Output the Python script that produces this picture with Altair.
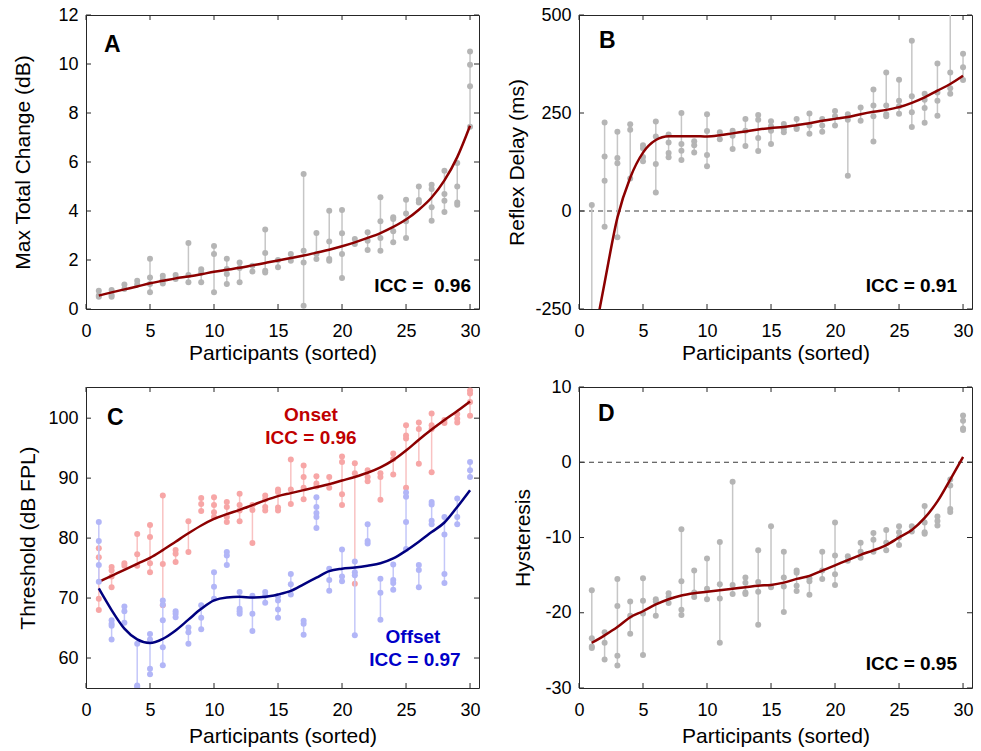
import altair as alt
import pandas as pd

FONT = "Liberation Sans"

participants = list(range(1, 31))
x_ticks = [0, 5, 10, 15, 20, 25, 30]

# Panel A: max total change (dB), repeated sessions per participant
A_points = [
    [0.75, 0.55, 0.5], [0.78, 0.57, 0.5], [1.0, 0.82], [1.15, 1.0],
    [2.05, 1.29, 1.02, 0.68], [1.36, 1.2, 1.04], [1.39, 1.22], [2.69, 1.39, 1.09],
    [1.62, 1.48, 1.09], [2.57, 2.24, 0.68], [2.05, 1.63, 1.43, 1.02], [1.9, 1.67, 1.09],
    [1.77, 1.53], [3.24, 2.29, 1.56, 1.49], [2.0, 1.7], [2.24, 1.97],
    [5.51, 2.38, 1.9, 0.13], [3.1, 2.24, 2.04], [4.01, 2.76, 2.04, 1.97], [4.04, 3.09, 2.24, 1.27],
    [2.86, 2.65], [3.13, 2.79, 2.41], [4.56, 3.58, 2.9, 2.38], [3.74, 3.67, 3.17, 2.72],
    [4.46, 3.9, 3.58, 2.9], [5.0, 4.45, 4.35], [5.07, 4.9, 4.15, 3.6], [5.64, 4.69, 4.42, 3.96],
    [5.96, 5.0, 4.35, 4.26], [10.51, 9.97, 9.09, 7.44],
]
A_fit = [0.55, 0.68, 0.8, 0.92, 1.05, 1.15, 1.25, 1.33, 1.42, 1.52,
         1.6, 1.68, 1.78, 1.88, 1.98, 2.08, 2.18, 2.3, 2.42, 2.56,
         2.72, 2.9, 3.1, 3.35, 3.65, 4.05, 4.55, 5.25, 6.2, 7.48]
A_ticks = [0, 2, 4, 6, 8, 10, 12]

# Panel B: reflex delay (ms)
B_points = [
    [15, -420, -610], [226, 139, 77, -40], [202, 135, 122, -67], [221, 207, 83],
    [168, 160, 138, 127], [228, 190, 120, 47], [195, 175, 148, 137], [250, 171, 154, 130],
    [178, 168, 149], [247, 204, 143, 114], [201, 183], [205, 192, 158],
    [235, 205, 166], [245, 233, 186, 153], [229, 216, 205, 171], [222, 209, 201],
    [235, 213, 209], [249, 218, 197], [235, 218, 202], [255, 242, 218],
    [247, 233, 90], [264, 230], [310, 269, 242, 177], [353, 269, 247, 242],
    [335, 281, 267, 248], [434, 293, 252, 214], [299, 284, 263, 225], [376, 302, 281, 243],
    [560, 353, 313, 299], [401, 367, 334],
]
B_fit = [-355, -183, -17, 85, 149, 181, 191, 191, 191, 190,
         193, 198, 203, 208, 212, 214, 219, 224, 230, 235,
         240, 247, 253, 258, 265, 276, 290, 307, 324, 345]
B_ticks = [-250, 0, 250, 500]

# Panel C: onset and offset thresholds (dB FPL)
C_onset = [
    [78.3, 76.8, 69.9, 68.0], [75.2, 74.6, 73.6, 71.8], [75.8, 75.4], [80.7, 77.3, 75.4],
    [82.2, 80.2, 75.8, 74.3], [87.1, 75.7, 68.8], [78.0, 77.4, 76.0], [82.8, 77.7],
    [86.7, 85.7, 84.5], [86.8, 85.5, 84.3, 83.5], [86.0, 85.2, 83.5, 82.7], [87.4, 85.5, 84.6, 82.8],
    [85.5, 84.7, 79.2], [87.1, 86.5, 85.2, 84.6], [88.1, 87.7, 85.1, 84.6], [93.1, 88.1, 85.7],
    [92.1, 90.2, 88.4, 86.5], [90.3, 89.1, 88.6], [90.2, 88.4], [93.6, 92.7, 87.3, 85.5],
    [92.5, 90.8, 72.4], [91.3, 90.2, 89.5], [90.8, 90.2, 86.4], [94.1, 93.2, 90.6],
    [98.8, 97.1, 96.6, 88.4], [99.3, 98.2, 92.4], [100.8, 98.8, 98.2, 91.0], [99.7, 99.2],
    [100.7, 99.9, 99.3], [104.6, 104.1, 102.7, 100.4],
]
C_onset_fit = [72.7, 73.7, 74.7, 75.7, 76.7, 78.0, 79.4, 80.8, 82.1, 83.2,
               84.0, 84.7, 85.5, 86.3, 87.0, 87.5, 88.0, 88.5, 89.0, 89.6,
               90.2, 90.9, 91.8, 93.0, 94.6, 96.4, 98.1, 99.7, 101.2, 102.8]
C_offset = [
    [82.7, 79.5, 75.5, 72.7], [66.3, 65.7, 65.4, 63.1], [68.6, 67.8, 65.9], [62.4, 55.4, 55.2],
    [64.0, 63.1, 58.2, 57.3], [69.6, 68.9, 66.3, 61.8, 58.8], [67.8, 67.4, 66.8], [65.1, 64.3, 62.4],
    [68.8, 66.7, 64.8], [74.3, 71.9, 69.9], [77.7, 77.1, 75.5], [71.0, 68.2, 67.8, 67.4],
    [70.4, 67.4, 64.5], [71.0, 70.4, 69.2], [70.3, 69.6, 68.1, 66.7], [74.0, 72.3, 70.6],
    [66.2, 65.7, 63.9], [86.8, 85.2, 84.2, 83.5, 81.7], [74.9, 73.0, 71.2], [78.1, 73.6, 72.8],
    [76.1, 74.3, 73.8, 63.8], [82.3, 79.5, 79.1], [73.2, 70.9, 66.4], [75.6, 73.0, 72.5, 71.4],
    [87.6, 86.9, 82.7, 78.2], [75.5, 74.7, 71.8], [86.0, 85.6, 82.9, 82.3], [83.5, 80.6, 74.0, 72.5],
    [86.6, 83.5, 82.3], [92.7, 91.3, 90.2],
]
C_offset_fit = [71.6, 68.0, 64.9, 63.1, 62.5, 63.2, 64.6, 66.4, 68.2, 69.6,
                70.1, 70.2, 70.1, 70.2, 70.6, 71.2, 72.3, 73.4, 74.5, 74.9,
                75.1, 75.4, 75.8, 76.6, 77.9, 79.4, 81.0, 82.6, 85.2, 88.0]
C_ticks = [60, 70, 80, 90, 100]

# Panel D: hysteresis
D_points = [
    [-17.0, -23.4, -24.5, -24.7], [-22.6, -24.0, -26.2], [-15.5, -19.1, -25.7, -27.0], [-18.5, -20.4, -22.8],
    [-15.4, -18.4, -20.1, -25.6], [-18.2, -18.5, -20.4], [-17.4, -17.9, -18.7], [-8.9, -15.8, -19.6, -20.3],
    [-14.4, -17.3, -17.9], [-12.8, -16.8, -18.2], [-10.6, -16.2, -18.1, -24.0], [-2.6, -16.3, -17.5],
    [-15.3, -16.0, -17.3, -17.5], [-11.7, -15.9, -17.2, -21.6], [-8.5, -16.6], [-11.9, -15.3, -16.5, -19.9],
    [-14.4, -14.7, -16.4, -17.1], [-15.4, -15.8, -17.6], [-11.9, -14.4, -15.5], [-8.0, -12.4, -14.9, -16.3],
    [-12.5, -13.1], [-10.7, -11.9, -12.7], [-9.4, -10.3, -11.9], [-9.0, -10.7, -11.7],
    [-8.5, -9.3, -10.0, -11.0], [-8.5, -9.2], [-5.8, -8.0, -9.3, -9.5], [-7.2, -7.8, -8.4],
    [-2.3, -3.1, -6.2, -6.6], [6.2, 5.5, 4.5, 4.3],
]
D_fit = [-24.0, -23.0, -21.9, -20.6, -19.8, -18.9, -18.2, -17.7, -17.4, -17.2,
         -17.0, -16.8, -16.6, -16.4, -16.3, -16.0, -15.5, -15.1, -14.4, -13.7,
         -13.0, -12.3, -11.7, -11.0, -10.0, -9.0, -7.4, -5.2, -2.3, 0.7]
D_ticks = [-30, -20, -10, 0, 10]

W = 393
H_TOP = 294
H_BOT = 301
TICK = 5
AX = "#262626"

GRAY_PT, GRAY_RULE = "#b5b5b5", "#c6c6c6"
RED_FIT, NAVY_FIT = "#8c0000", "#00007f"
PINK_PT, PINK_RULE = "#f7a6a6", "#f9c2c2"
BLUE_PT, BLUE_RULE = "#b2b6f7", "#c4c7f9"

x_scale = alt.Scale(domain=[0, 30.7], nice=False, zero=False)


def axes(yticks, ytitle, title_pad, x_title_pad):
    """One x and one y axis definition, shared verbatim by every layer of a panel."""
    x_axis = alt.Axis(values=x_ticks, title="Participants (sorted)", labelFlush=False,
                      labelOverlap=False, labelPadding=13, titlePadding=x_title_pad)
    y_axis = alt.Axis(values=yticks, title=ytitle, labelFlush=False, labelOverlap=False,
                      labelPadding=8, titlePadding=title_pad,
                      labelExpr="toString(datum.value)")
    return x_axis, y_axis


def long_table(points):
    rows = [{"participant": p, "value": v}
            for p, vals in zip(participants, points) for v in vals]
    return pd.DataFrame(rows)


def series(points, fit, ys, ax, pt_color, rule_color, fit_color):
    x_axis, y_axis = ax
    df = long_table(points)
    x = alt.X("participant:Q", scale=x_scale, axis=x_axis)
    spread = alt.Chart(df).mark_rule(color=rule_color, strokeWidth=1.5, clip=True).encode(
        x=x,
        y=alt.Y("min(value):Q", scale=ys, axis=y_axis),
        y2=alt.Y2("max(value):Q"),
    )
    dots = alt.Chart(df).mark_circle(color=pt_color, size=36, opacity=1, clip=True).encode(
        x=x,
        y=alt.Y("value:Q", scale=ys, axis=y_axis),
    )
    curve = alt.Chart(pd.DataFrame({"participant": participants, "fit": fit})).mark_line(
        color=fit_color, strokeWidth=2.5, clip=True, interpolate="monotone"
    ).encode(
        x=x,
        y=alt.Y("fit:Q", scale=ys, axis=y_axis),
    )
    return [spread, dots, curve]


def frame(ys, ax, yticks, height):
    """Inward-pointing ticks on all four sides of the box."""
    x_axis, y_axis = ax
    xt = pd.DataFrame({"t": x_ticks})
    yt = pd.DataFrame({"t": yticks})
    tick = dict(color=AX, strokeWidth=1)
    bottom = alt.Chart(xt).mark_rule(**tick).encode(
        x=alt.X("t:Q", scale=x_scale, axis=x_axis),
        y=alt.value(height), y2=alt.value(height - TICK))
    top = alt.Chart(xt).mark_rule(**tick).encode(
        x=alt.X("t:Q", scale=x_scale, axis=x_axis),
        y=alt.value(0), y2=alt.value(TICK))
    left = alt.Chart(yt).mark_rule(**tick).encode(
        y=alt.Y("t:Q", scale=ys, axis=y_axis),
        x=alt.value(0), x2=alt.value(TICK))
    right = alt.Chart(yt).mark_rule(**tick).encode(
        y=alt.Y("t:Q", scale=ys, axis=y_axis),
        x=alt.value(W), x2=alt.value(W - TICK))
    return [bottom, left, top, right]


def zero_line(ys, ax):
    return alt.Chart(pd.DataFrame({"z": [0]})).mark_rule(
        color="#3a3a3a", strokeWidth=1, strokeDash=[5, 4]
    ).encode(y=alt.Y("z:Q", scale=ys, axis=ax[1]))


def label(text, x, y, size=19, color="black", align="left"):
    return alt.Chart(pd.DataFrame({"s": [text]})).mark_text(
        font=FONT, fontSize=size, fontWeight="bold", color=color,
        align=align, baseline="alphabetic"
    ).encode(x=alt.value(x), y=alt.value(y), text="s:N")


# A
ys_a = alt.Scale(domain=[0, 12], nice=False, zero=False)
ax_a = axes(A_ticks, "Max Total Change (dB)", 24, 2)
panel_a = alt.layer(
    *frame(ys_a, ax_a, A_ticks, H_TOP),
    *series(A_points, A_fit, ys_a, ax_a, GRAY_PT, GRAY_RULE, RED_FIT),
    label("A", 18, 37, size=23),
    label("ICC = \u00a00.96", 385, 277, align="right"),
).properties(width=W, height=H_TOP)

# B
ys_b = alt.Scale(domain=[-250, 500], nice=False, zero=False)
ax_b = axes(B_ticks, "Reflex Delay (ms)", 7, 2)
panel_b = alt.layer(
    *frame(ys_b, ax_b, B_ticks, H_TOP),
    zero_line(ys_b, ax_b),
    *series(B_points, B_fit, ys_b, ax_b, GRAY_PT, GRAY_RULE, RED_FIT),
    label("B", 20, 33, size=23),
    label("ICC = 0.91", 378, 277, align="right"),
).properties(width=W, height=H_TOP)

# C
ys_c = alt.Scale(domain=[55, 105.2], nice=False, zero=False)
ax_c = axes(C_ticks, "Threshold (dB FPL)", 9, 6)
panel_c = alt.layer(
    *frame(ys_c, ax_c, C_ticks, H_BOT),
    *series(C_onset, C_onset_fit, ys_c, ax_c, PINK_PT, PINK_RULE, RED_FIT),
    *series(C_offset, C_offset_fit, ys_c, ax_c, BLUE_PT, BLUE_RULE, NAVY_FIT),
    label("C", 21, 38, size=23),
    label("Onset", 225, 34, color="#c00000", align="center"),
    label("ICC = 0.96", 225, 57, color="#c00000", align="center"),
    label("Offset", 327, 256, color="#0000c8", align="center"),
    label("ICC = 0.97", 329, 279, color="#0000c8", align="center"),
).properties(width=W, height=H_BOT)

# D
ys_d = alt.Scale(domain=[-30, 10], nice=False, zero=False)
ax_d = axes(D_ticks, "Hysteresis", 11, 6)
panel_d = alt.layer(
    *frame(ys_d, ax_d, D_ticks, H_BOT),
    zero_line(ys_d, ax_d),
    *series(D_points, D_fit, ys_d, ax_d, GRAY_PT, GRAY_RULE, RED_FIT),
    label("D", 19, 34, size=23),
    label("ICC = 0.95", 378, 283, align="right"),
).properties(width=W, height=H_BOT)

chart = alt.concat(
    panel_a, panel_b, panel_c, panel_d, columns=2,
    spacing={"row": 13, "column": 25},
).properties(
    padding={"left": 12, "top": 5, "right": 5, "bottom": 0},
    background="white",
).configure_axis(
    labelFont=FONT, titleFont=FONT, labelFontSize=18, titleFontSize=21,
    titleFontWeight="normal", labelColor="black", titleColor="black",
    grid=False, ticks=False, tickSize=0, domain=False,
).configure_view(
    stroke=AX, strokeWidth=1,
)

chart.save("out.html", embed_options={"renderer": "svg", "actions": False})
